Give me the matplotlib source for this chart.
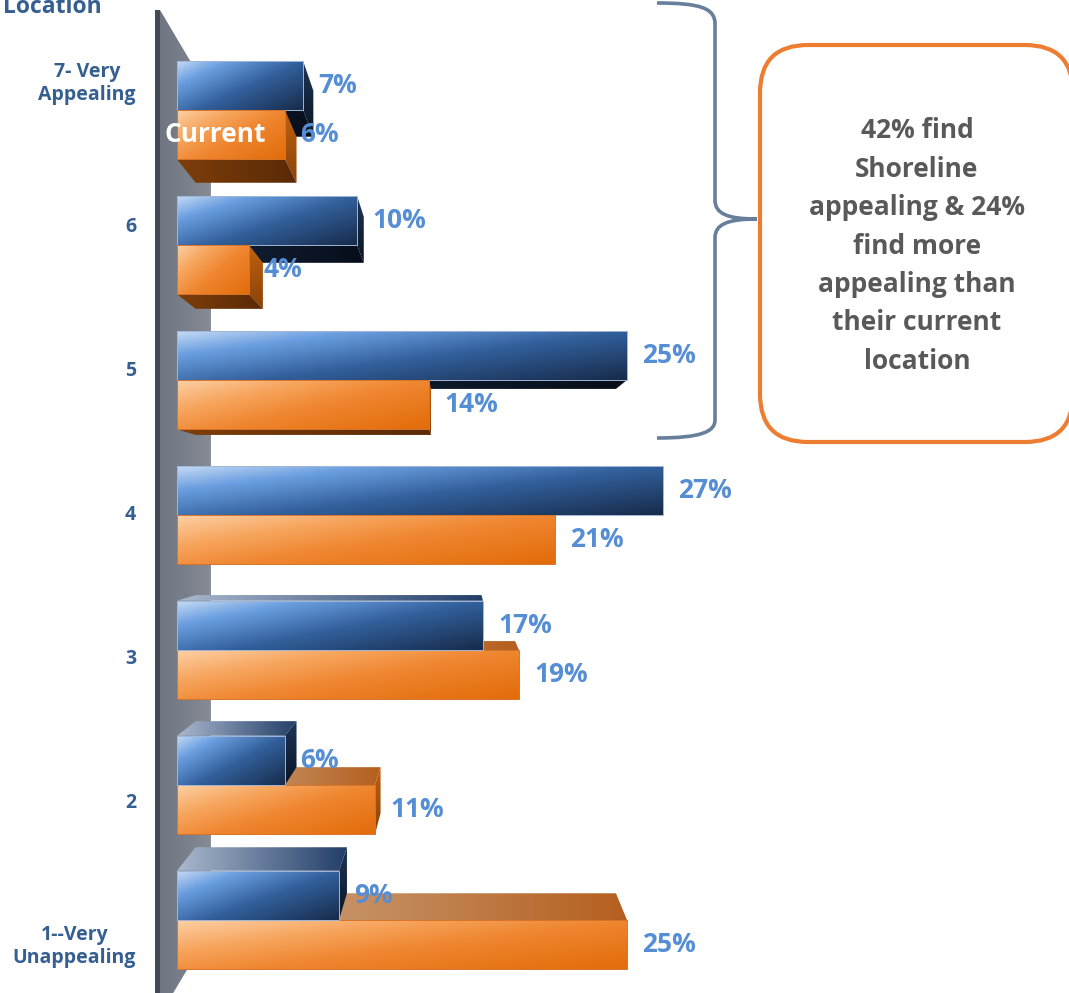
import numpy as np
import matplotlib
matplotlib.use("Agg")
import matplotlib.pyplot as plt
from matplotlib.patches import Polygon, Rectangle, FancyBboxPatch, PathPatch
from matplotlib.path import Path
from matplotlib.colors import LinearSegmentedColormap
from matplotlib.transforms import IdentityTransform

# ---------------- data ----------------
categories = ["7- Very\nAppealing", "6", "5", "4", "3", "2", "1--Very\nUnappealing"]
shoreline = [7, 10, 25, 27, 17, 6, 9]
current = [6, 4, 14, 21, 19, 11, 25]
series_names = ["Shoreline", "Current"]
axis_title = "Location"
callout_lines = ["42% find", "Shoreline", "appealing & 24%", "find more",
                 "appealing than", "their current", "location"]

# ---------------- figure ----------------
W, H = 1069, 993
fig = plt.figure(figsize=(W / 100, H / 100), dpi=100)
ax = fig.add_axes([0, 0, 1, 1])
ax.axis("off")

FONT = ["Open Sans", "DejaVu Sans"]
PXX = 18.0    # px per percent
X0 = 177.0    # px of 0 %
PXY = 135.0   # px per category
Y0 = 920.0    # px of category index 0 boundary
XLIM = (-X0 / PXX, (W - X0) / PXX)
YLIM = ((Y0 - H) / PXY, Y0 / PXY)

XV, YV = 15.7, 3.0   # vanishing point (data)
T_BAR = 0.066
T_WALL = 0.17
BH = 0.365           # bar height (category units)

def back(x, y, t=T_BAR):
    return (x + t * (XV - x), y + t * (YV - y))

zc = [2.0]

def face(verts, colors, wx=1.0, wy=0.0, ec=None, lw=0.0):
    xs = [v[0] for v in verts]
    ys = [v[1] for v in verts]
    if max(xs) - min(xs) < 1e-3 or max(ys) - min(ys) < 1e-3:
        return
    poly = Polygon(verts, closed=True, fc="none", ec="none", zorder=zc[0])
    ax.add_patch(poly)
    X, Y = np.meshgrid(np.linspace(0, 1, 120), np.linspace(0, 1, 30))
    U = (wx * X + wy * (1 - Y)) / (wx + wy)
    cmap = LinearSegmentedColormap.from_list("g", colors)
    im = ax.imshow(U, cmap=cmap, vmin=0, vmax=1,
                   extent=(min(xs), max(xs), min(ys), max(ys)),
                   origin="lower", aspect="auto", interpolation="bilinear",
                   zorder=zc[0])
    im.set_clip_path(poly)
    if ec is not None:
        ax.add_patch(Polygon(verts, closed=True, fc="none", ec=ec, lw=lw,
                             zorder=zc[0] + 0.001))
    zc[0] += 0.01

BLUE = dict(
    front=[(0, "#c6dbf5"), (0.22, "#6c9fe0"), (0.55, "#32609c"), (1, "#182c4c")],
    bottom=["#15253f", "#070e1a"],
    top=[(0, "#aab8cd"), (1, "#233f69")],
    right=["#1e3557", "#0a1526"],
    edge="#9fb6d8",
)
ORANGE = dict(
    front=[(0, "#fcd0a6"), (0.28, "#f7a65f"), (0.55, "#ef8630"), (1, "#e36c0a")],
    bottom=["#7e3e0b", "#5a2a05"],
    top=[(0, "#d4aa8b"), (0.5, "#c28858"), (1, "#b5601f")],
    right=["#c0600f", "#8a4308"],
    edge="#d8732a",
)

def box(x0, x1, y0, y1, st):
    yc = 0.5 * (y0 + y1)
    if x1 < XV:
        face([(x1, y0), (x1, y1), back(x1, y1), back(x1, y0)], st["right"], wx=0, wy=1)
    if yc > YV:
        face([(x0, y0), (x1, y0), back(x1, y0), back(x0, y0)], st["bottom"], wx=1, wy=0)
    else:
        face([(x0, y1), (x1, y1), back(x1, y1), back(x0, y1)], st["top"], wx=1, wy=0)
    face([(x0, y0), (x1, y0), (x1, y1), (x0, y1)], st["front"], wx=0.55, wy=0.45,
         ec=st["edge"], lw=0.7)

# ---------------- wall ----------------
xw = (160 - X0) / PXX
ytop = (Y0 - 10) / PXY
ybot = (Y0 - 1015) / PXY
wall = [(xw, ytop), back(xw, ytop, T_WALL), back(xw, ybot, T_WALL), (xw, ybot)]
face(wall, ["#6f7681", "#7a808b", "#868b94"], wx=1, wy=0)
ax.add_patch(Rectangle(((155 - X0) / PXX, ybot), (160 - 155) / PXX, ytop - ybot,
                       fc="#434a55", ec="none", zorder=zc[0]))
zc[0] += 0.01

# ---------------- bars ----------------
n = len(categories)
ypos = [n - 1 - k for k in range(n)]
for k in range(n):
    y = ypos[k]
    b_args = (0, shoreline[k], y, y + BH, BLUE)
    o_args = (0, current[k], y - BH, y, ORANGE)
    if y >= YV:
        box(*b_args); box(*o_args)
    else:
        box(*o_args); box(*b_args)

# value labels
VAL_C = "#558ed5"
for k in range(n):
    y = ypos[k]
    ax.text(shoreline[k] + 15 / PXX, y + BH / 2, f"{shoreline[k]}%", color=VAL_C,
            fontsize=19, fontweight="bold", family=FONT, ha="left", va="center",
            zorder=50)
    ax.text(current[k] + 15 / PXX, y - BH / 2, f"{current[k]}%", color=VAL_C,
            fontsize=19, fontweight="bold", family=FONT, ha="left", va="center",
            zorder=50)

# series label on first orange bar
ax.text((215 - X0) / PXX, ypos[0] - BH / 2, series_names[1], color="white",
        fontsize=19, fontweight="bold", family=FONT, ha="center", va="center",
        zorder=50)

# category labels
LAB_C = "#365f91"
for k in range(n):
    y = ypos[k]
    ax.text((136 - X0) / PXX, y + 0.065 * (y - YV), categories[k], color=LAB_C,
            fontsize=14, fontweight="bold", family=FONT, ha="right", va="center",
            multialignment="center", linespacing=1.2, zorder=50)

ax.text((3 - X0) / PXX, (Y0 - 13) / PXY, axis_title, color=LAB_C, fontsize=16.5,
        fontweight="bold", family=FONT, ha="left", va="baseline", zorder=50)

# ---------------- brace & callout (pixel space) ----------------
def D(x, y):
    return (x, H - y)

bverts = [D(657, 3), D(700, 3), D(715, 8), D(715, 24), D(715, 200),
          D(715, 214), D(728, 219), D(757, 219), D(728, 219), D(715, 224),
          D(715, 238), D(715, 420), D(715, 432), D(700, 438), D(657, 438)]
C4, LT = Path.CURVE4, Path.LINETO
bcodes = [Path.MOVETO, C4, C4, C4, LT, C4, C4, C4, C4, C4, C4, LT, C4, C4, C4]
ax.add_patch(PathPatch(Path(bverts, bcodes), fc="none", ec="#687f9c", lw=2.6,
                       transform=IdentityTransform(), zorder=40))

ax.add_patch(FancyBboxPatch(D(760, 442), 313, 397,
                            boxstyle="round,pad=0,rounding_size=48",
                            fc="white", ec="#ed7d31", lw=3.0,
                            transform=IdentityTransform(), zorder=40))
for i, line in enumerate(callout_lines):
    x, yy = D(917, 131 + i * 38.4)
    ax.text(x, yy, line, color="#595959", fontsize=19, fontweight="bold",
            family=FONT, ha="center", va="center", transform=IdentityTransform(),
            zorder=45)

ax.set_xlim(*XLIM)
ax.set_ylim(*YLIM)
fig.savefig("out.png", dpi=100)
